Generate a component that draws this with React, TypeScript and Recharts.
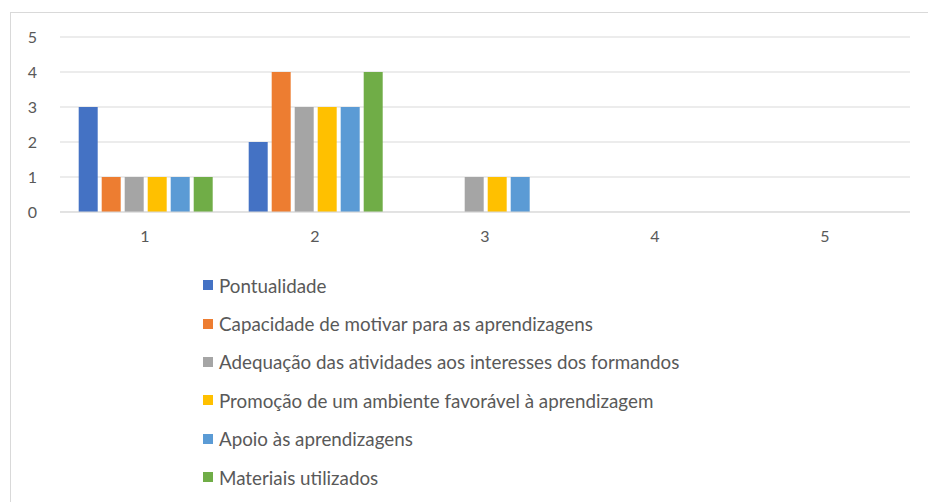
import { BarChart, Bar, XAxis, YAxis, CartesianGrid } from "recharts";

const categories = ["1", "2", "3", "4", "5"];

const pontualidade = [3, 2, 0, 0, 0];
const capacidade = [1, 4, 0, 0, 0];
const adequacao = [1, 3, 1, 0, 0];
const promocao = [1, 3, 1, 0, 0];
const apoio = [1, 3, 1, 0, 0];
const materiais = [1, 4, 0, 0, 0];

const yTicks = [0, 1, 2, 3, 4, 5];

const series = [
  { key: "pontualidade", name: "Pontualidade", values: pontualidade, color: "#4472C4" },
  { key: "capacidade", name: "Capacidade de motivar para as aprendizagens", values: capacidade, color: "#ED7D31" },
  { key: "adequacao", name: "Adequação das atividades aos interesses dos formandos", values: adequacao, color: "#A5A5A5" },
  { key: "promocao", name: "Promoção de um ambiente favorável à aprendizagem", values: promocao, color: "#FFC000" },
  { key: "apoio", name: "Apoio às aprendizagens", values: apoio, color: "#5B9BD5" },
  { key: "materiais", name: "Materiais utilizados", values: materiais, color: "#70AD47" },
];

const data = categories.map((c, i) => {
  const row: Record<string, string | number> = { cat: c };
  series.forEach((s) => {
    row[s.key] = s.values[i];
  });
  return row;
});

const FONT = "Lato, 'Open Sans', sans-serif";
const TEXT = "#595959";

export default function App() {
  return (
    <div
      style={{
        position: "absolute",
        left: 0,
        top: 0,
        width: 928,
        height: 502,
        background: "#fff",
        overflow: "hidden",
        fontFamily: FONT,
      }}
    >
      <div
        style={{
          position: "absolute",
          left: 10,
          top: 12,
          width: 940,
          height: 520,
          borderTop: "1px solid #d9d9d9",
          borderLeft: "1px solid #d9d9d9",
        }}
      />
      <div style={{ position: "absolute", left: 0, top: 0 }}>
        <BarChart
          width={928}
          height={260}
          data={data}
          margin={{ top: 37, right: 18, left: 20, bottom: 18 }}
          barCategoryGap="11%"
          barGap={4}
        >
          <CartesianGrid vertical={false} stroke="#d9d9d9" strokeWidth={1} />
          <XAxis
            dataKey="cat"
            axisLine={{ stroke: "#d9d9d9" }}
            tickLine={false}
            tickSize={0}
            tickMargin={19}
            height={30}
            tick={{ fill: TEXT, fontSize: 16, fontFamily: FONT }}
          />
          <YAxis
            domain={[0, 5]}
            ticks={yTicks}
            axisLine={false}
            tickLine={false}
            tickSize={0}
            tickMargin={23}
            width={40}
            tick={{ fill: TEXT, fontSize: 16, fontFamily: FONT }}
          />
          {series.map((s) => (
            <Bar key={s.key} dataKey={s.key} name={s.name} fill={s.color} isAnimationActive={false} />
          ))}
        </BarChart>
      </div>
      <div style={{ position: "absolute", left: 203, top: 266 }}>
        {series.map((s) => (
          <div
            key={s.key}
            style={{ display: "flex", alignItems: "center", height: 38.4, fontSize: 18.8, color: TEXT }}
          >
            <div style={{ width: 10, height: 10, background: s.color, marginRight: 6 }} />
            <span>{s.name}</span>
          </div>
        ))}
      </div>
    </div>
  );
}
